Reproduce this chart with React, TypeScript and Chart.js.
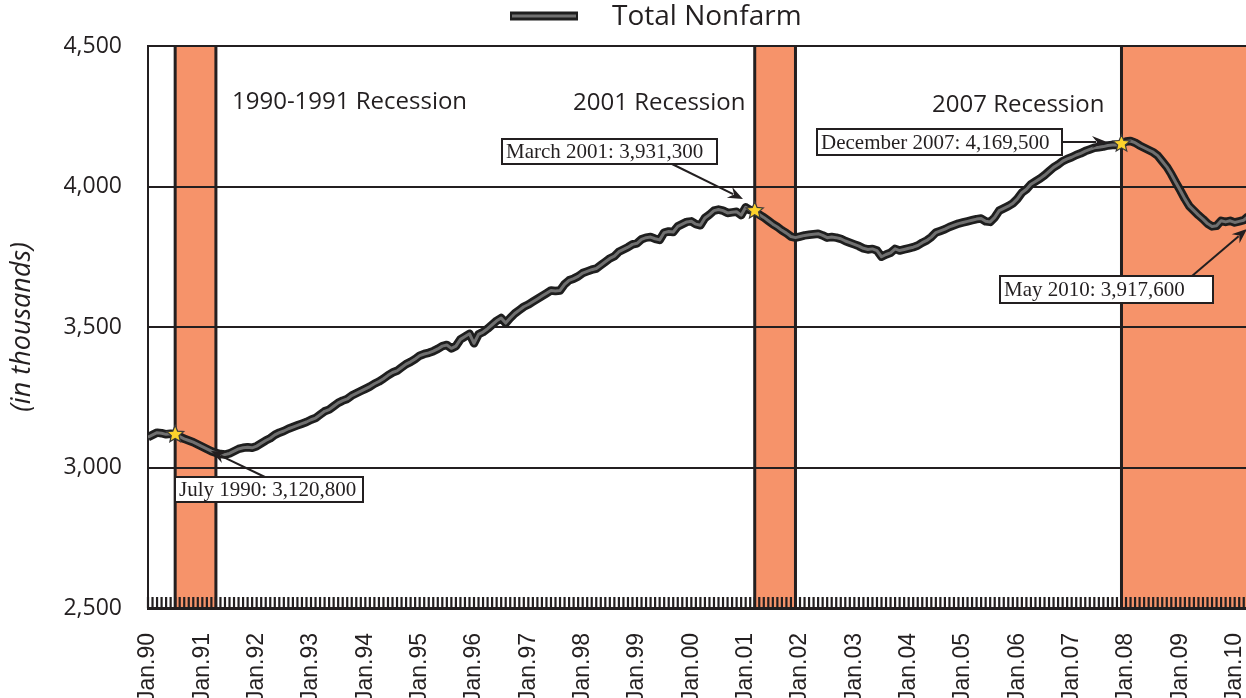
import { useEffect, useRef } from "react";
import { Chart, registerables } from "chart.js";

Chart.register(...registerables);

// ---------- data (thousands, monthly, Jan 1990 = index 0) ----------
const nonfarm1990s = [
  3108, 3116, 3124, 3122, 3118, 3120, 3118, 3110, 3102, 3096, 3090, 3082,
  3074, 3066, 3058, 3052, 3048, 3046, 3050, 3058, 3066, 3070, 3072, 3070,
  3076, 3086, 3096, 3104, 3116, 3124, 3130, 3138, 3144, 3150, 3156, 3162,
  3170, 3176, 3188, 3200, 3206, 3218, 3230, 3238, 3244, 3256, 3264, 3272,
  3280, 3288, 3298, 3306, 3316, 3328, 3338, 3344, 3356, 3368, 3376, 3386,
  3398, 3404, 3408, 3414, 3422, 3432, 3436, 3424, 3432, 3456, 3466, 3476,
  3442, 3474, 3482, 3494, 3508, 3522, 3532, 3514, 3532, 3548, 3560, 3572,
  3580, 3590, 3600, 3610, 3620, 3630, 3628, 3630, 3652, 3666, 3672, 3680,
  3692, 3698, 3704, 3708, 3720, 3732, 3744, 3752, 3768, 3776, 3784, 3794,
  3798, 3812, 3818, 3820, 3814, 3810, 3836, 3840, 3838, 3858, 3866, 3874,
];
const nonfarm2000s = [
  3876, 3866, 3862, 3888, 3900, 3914, 3918, 3914, 3906, 3908, 3910, 3898,
  3926, 3916, 3914, 3900, 3890, 3878, 3866, 3856, 3844, 3834, 3822, 3818,
  3822, 3826, 3828, 3830, 3832, 3826, 3818, 3820, 3818, 3814, 3806, 3800,
  3794, 3788, 3780, 3776, 3778, 3772, 3750, 3758, 3764, 3778, 3772, 3776,
  3780, 3784, 3790, 3800, 3808, 3820, 3836, 3842, 3848, 3856, 3862, 3868,
  3872, 3876, 3880, 3884, 3886, 3876, 3874, 3890, 3914, 3922, 3930, 3940,
  3956, 3978, 3990, 4008, 4018, 4028, 4040, 4054, 4068, 4078, 4090, 4098,
  4104, 4112, 4118, 4126, 4132, 4138, 4140, 4142, 4146, 4148, 4148, 4152,
  4160, 4162, 4156, 4146, 4138, 4130, 4122, 4110, 4090, 4070, 4044, 4014,
  3986, 3956, 3930, 3914, 3898, 3884, 3868, 3858, 3860, 3878, 3874, 3878,
];
const nonfarm2010 = [3872, 3876, 3880, 3894, 3918];
const nonfarm = [...nonfarm1990s, ...nonfarm2000s, ...nonfarm2010];

const xTickLabels = [
  "Jan.90", "Jan.91", "Jan.92", "Jan.93", "Jan.94", "Jan.95", "Jan.96",
  "Jan.97", "Jan.98", "Jan.99", "Jan.00", "Jan.01", "Jan.02", "Jan.03",
  "Jan.04", "Jan.05", "Jan.06", "Jan.07", "Jan.08", "Jan.09", "Jan.10",
];
const xMaxMonth = 242.5;

const recessionStart = [6, 134, 215];
const recessionEnd = [15, 143, 245];
const recessionNames = ["1990-1991 Recession", "2001 Recession", "2007 Recession"];

const markerMonths = [6, 134, 215];
const calloutTexts = [
  "July 1990: 3,120,800",
  "March 2001: 3,931,300",
  "December 2007: 4,169,500",
  "May 2010: 3,917,600",
];

// ---------- styling / layout ----------
const INK = "#231f20";
const BAND = "#f6936a";
const SANS = "'Open Sans', 'DejaVu Sans', sans-serif";
const SERIF = "'Liberation Serif', 'DejaVu Serif', serif";

const recessionLabelPos = [
  { x: 232, y: 102 },
  { x: 573, y: 103 },
  { x: 932, y: 105 },
];
const calloutLayout = [
  { bx: 175, by: 477, bw: 188, bh: 25, ax: 267, ay: 478, tx: 211, ty: 451 },
  { bx: 502, by: 139, bw: 215, bh: 25, ax: 672, ay: 164, tx: 743, ty: 199 },
  { bx: 817, by: 129, bw: 245, bh: 26, ax: 1062, ay: 142, tx: 1107, ty: 142 },
  { bx: 1000, by: 276, bw: 213, bh: 27, ax: 1192, ay: 276, tx: 1247, ty: 229 },
];

function drawStar(ctx: CanvasRenderingContext2D, cx: number, cy: number, r: number) {
  ctx.beginPath();
  for (let k = 0; k < 10; k++) {
    const rad = k % 2 === 0 ? r : r * 0.45;
    const a = -Math.PI / 2 + (k * Math.PI) / 5;
    const px = cx + rad * Math.cos(a);
    const py = cy + rad * Math.sin(a);
    if (k === 0) ctx.moveTo(px, py);
    else ctx.lineTo(px, py);
  }
  ctx.closePath();
  ctx.fillStyle = "#fcd22c";
  ctx.fill();
  ctx.lineWidth = 1.2;
  ctx.strokeStyle = "#3a3a3a";
  ctx.stroke();
}

function drawArrow(ctx: CanvasRenderingContext2D, x1: number, y1: number, x2: number, y2: number) {
  const ang = Math.atan2(y2 - y1, x2 - x1);
  const len = 15;
  const half = 6;
  const bx = x2 - len * Math.cos(ang);
  const by = y2 - len * Math.sin(ang);
  ctx.strokeStyle = INK;
  ctx.lineWidth = 2;
  ctx.beginPath();
  ctx.moveTo(x1, y1);
  ctx.lineTo(bx + 4 * Math.cos(ang), by + 4 * Math.sin(ang));
  ctx.stroke();
  ctx.fillStyle = INK;
  ctx.beginPath();
  ctx.moveTo(x2, y2);
  ctx.lineTo(bx - half * Math.sin(ang), by + half * Math.cos(ang));
  ctx.lineTo(bx + 5 * Math.cos(ang), by + 5 * Math.sin(ang));
  ctx.lineTo(bx + half * Math.sin(ang), by - half * Math.cos(ang));
  ctx.closePath();
  ctx.fill();
}

const overlayPlugin = {
  id: "overlay",
  beforeDraw(chart: any) {
    const { ctx, chartArea, scales } = chart;
    const xs = scales.x;
    ctx.save();
    ctx.beginPath();
    ctx.rect(chartArea.left, chartArea.top - 2, chartArea.right - chartArea.left, chartArea.bottom - chartArea.top + 4);
    ctx.clip();
    for (let r = 0; r < recessionStart.length; r++) {
      const x1 = xs.getPixelForValue(recessionStart[r]);
      const x2 = xs.getPixelForValue(recessionEnd[r]);
      ctx.fillStyle = BAND;
      ctx.fillRect(x1, chartArea.top, x2 - x1, chartArea.bottom - chartArea.top);
      ctx.strokeStyle = INK;
      ctx.lineWidth = 3;
      ctx.beginPath();
      ctx.moveTo(x1, chartArea.top);
      ctx.lineTo(x1, chartArea.bottom);
      ctx.moveTo(x2, chartArea.top);
      ctx.lineTo(x2, chartArea.bottom);
      ctx.stroke();
    }
    ctx.restore();
  },
  beforeDatasetsDraw(chart: any) {
    const { ctx, chartArea, scales } = chart;
    const xs = scales.x;
    ctx.save();
    ctx.strokeStyle = INK;
    ctx.lineWidth = 2.2;
    ctx.beginPath();
    for (let m = 0; m <= Math.floor(xMaxMonth); m++) {
      const x = xs.getPixelForValue(m);
      ctx.moveTo(x, chartArea.bottom - 11);
      ctx.lineTo(x, chartArea.bottom);
    }
    ctx.stroke();
    ctx.restore();
  },
  afterDraw(chart: any) {
    const { ctx, scales, chartArea } = chart;
    const xs = scales.x;
    const ys = scales.y;
    ctx.save();

    // stars on the data
    markerMonths.forEach((m) => {
      drawStar(ctx, xs.getPixelForValue(m), ys.getPixelForValue(nonfarm[m]), 9);
    });

    // callouts
    calloutTexts.forEach((t, i) => {
      const c = calloutLayout[i];
      drawArrow(ctx, c.ax, c.ay, c.tx, c.ty);
      ctx.fillStyle = "#ffffff";
      ctx.fillRect(c.bx, c.by, c.bw, c.bh);
      ctx.strokeStyle = INK;
      ctx.lineWidth = 2;
      ctx.strokeRect(c.bx, c.by, c.bw, c.bh);
      ctx.fillStyle = INK;
      ctx.font = `21px ${SERIF}`;
      ctx.textAlign = "left";
      ctx.textBaseline = "middle";
      ctx.fillText(t, c.bx + 4, c.by + c.bh / 2 + 1);
    });

    // recession labels
    ctx.font = `24px ${SANS}`;
    ctx.fillStyle = INK;
    ctx.textAlign = "left";
    ctx.textBaseline = "middle";
    recessionNames.forEach((n, i) => {
      ctx.fillText(n, recessionLabelPos[i].x, recessionLabelPos[i].y);
    });

    // legend
    ctx.lineCap = "butt";
    ctx.strokeStyle = "#1e1e1e";
    ctx.lineWidth = 9;
    ctx.beginPath();
    ctx.moveTo(510, 16);
    ctx.lineTo(578, 16);
    ctx.stroke();
    ctx.strokeStyle = "#707070";
    ctx.lineWidth = 3;
    ctx.beginPath();
    ctx.moveTo(512, 16);
    ctx.lineTo(576, 16);
    ctx.stroke();
    ctx.font = `28px ${SANS}`;
    ctx.fillStyle = INK;
    ctx.fillText("Total Nonfarm", 612, 17);

    // y axis title
    ctx.translate(22, (chartArea.top + chartArea.bottom) / 2);
    ctx.rotate(-Math.PI / 2);
    ctx.font = `italic 27px ${SANS}`;
    ctx.textAlign = "center";
    ctx.fillText("(in thousands)", 0, 0);
    ctx.restore();
  },
};

export default function App() {
  const ref = useRef<HTMLCanvasElement>(null);
  useEffect(() => {
    document.body.style.margin = "0";
    const canvas = ref.current;
    if (!canvas) return;
    const points = nonfarm.map((v, i) => ({ x: i, y: v }));
    const chart = new Chart(canvas, {
      type: "line",
      data: {
        datasets: [
          {
            label: "Total Nonfarm",
            data: points,
            borderColor: "#707070",
            borderWidth: 3,
            pointRadius: 0,
            tension: 0,
            order: 1,
            borderJoinStyle: "round",
          },
          {
            label: "Total Nonfarm outline",
            data: points,
            borderColor: "#1e1e1e",
            borderWidth: 8.5,
            pointRadius: 0,
            tension: 0,
            order: 2,
            borderJoinStyle: "round",
          },
        ],
      },
      options: {
        responsive: false,
        animation: false,
        events: [],
        layout: { padding: { top: 46, right: 0, left: 0, bottom: 0 } },
        plugins: {
          legend: { display: false },
          tooltip: { enabled: false },
        },
        scales: {
          x: {
            type: "linear",
            min: 0,
            max: xMaxMonth,
            afterBuildTicks: (s: any) => {
              s.ticks = xTickLabels.map((_, i) => ({ value: i * 12 }));
            },
            afterFit: (s: any) => {
              s.height = 90;
              s.paddingLeft = 0;
              s.paddingRight = 0;
            },
            grid: { drawOnChartArea: false, drawTicks: false },
            border: { display: true, color: INK, width: 3 },
            ticks: {
              autoSkip: false,
              minRotation: 90,
              maxRotation: 90,
              padding: 25,
              color: INK,
              font: { family: "'Liberation Sans', Arial, sans-serif", size: 23 },
              callback: (v: any) => xTickLabels[Math.round(Number(v) / 12)] ?? "",
            },
          },
          y: {
            min: 2500,
            max: 4500,
            afterFit: (s: any) => {
              s.width = 148;
            },
            grid: { color: INK, lineWidth: 2, drawTicks: false },
            border: { display: true, color: INK, width: 2 },
            ticks: {
              stepSize: 500,
              padding: 26,
              color: INK,
              font: { family: SANS, size: 23 },
              callback: (v: any) => Number(v).toLocaleString("en-US"),
            },
          },
        },
      },
      plugins: [overlayPlugin],
    });
    return () => chart.destroy();
  }, []);
  return (
    <div style={{ position: "absolute", left: 0, top: 0, width: 1246, height: 698 }}>
      <canvas ref={ref} width={1246} height={698} style={{ display: "block" }} />
    </div>
  );
}
